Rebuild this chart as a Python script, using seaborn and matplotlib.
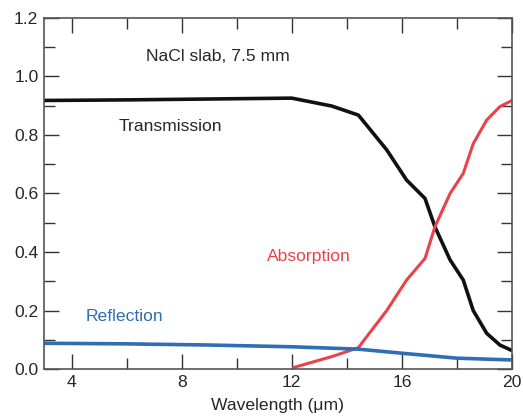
import numpy as np
import pandas as pd
import matplotlib.pyplot as plt
import seaborn as sns
from matplotlib.ticker import MultipleLocator

# values
trans_x = [3, 6, 9, 12, 13.45, 14.42, 15.45, 16.17, 16.84, 17.2, 17.75, 18.23, 18.59, 19.08, 19.56, 20]
trans_y = [0.918, 0.92, 0.923, 0.926, 0.899, 0.868, 0.749, 0.646, 0.583, 0.486, 0.373, 0.304, 0.20, 0.122, 0.082, 0.063]

abs_x = [12.06, 13.51, 14.42, 15.45, 16.17, 16.84, 17.2, 17.75, 18.23, 18.59, 19.08, 19.56, 20]
abs_y = [0.005, 0.044, 0.073, 0.20, 0.304, 0.378, 0.486, 0.60, 0.669, 0.77, 0.851, 0.897, 0.918]

refl_x = [3, 6, 9, 12, 14.4, 16, 18, 20]
refl_y = [0.088, 0.086, 0.082, 0.076, 0.068, 0.054, 0.037, 0.031]

sns.set_style("ticks")
plt.rcParams['font.family'] = ['Liberation Sans', 'DejaVu Sans']

fig = plt.figure(figsize=(5.23, 4.18), dpi=100)
ax = fig.add_axes([0.0841, 0.1172, 0.8949, 0.8398])

sns.lineplot(x=trans_x, y=trans_y, color='#111111', lw=2.6, ax=ax)
sns.lineplot(x=abs_x, y=abs_y, color='#e8434a', lw=2.2, ax=ax)
sns.lineplot(x=refl_x, y=refl_y, color='#2f6db5', lw=2.6, ax=ax)

fs = 12.6
ax.text(9.32, 1.07, 'NaCl slab, 7.5 mm', fontsize=fs, ha='center', va='center')
ax.text(7.6, 0.83, 'Transmission', fontsize=fs, ha='center', va='center')
ax.text(12.63, 0.386, 'Absorption', fontsize=fs, ha='center', va='center', color='#e8434a')
ax.text(5.94, 0.178, 'Reflection', fontsize=fs, ha='center', va='center', color='#2f6db5')

ax.set_xlim(3, 20)
ax.set_ylim(0, 1.2)
ax.xaxis.set_major_locator(MultipleLocator(4))
ax.xaxis.set_minor_locator(MultipleLocator(2))
ax.yaxis.set_major_locator(MultipleLocator(0.2))
ax.yaxis.set_minor_locator(MultipleLocator(0.1))
ax.yaxis.set_major_formatter(plt.FormatStrFormatter('%.1f'))
ax.tick_params(which='both', direction='in', top=True, right=True, color='#333333', width=1)
ax.tick_params(which='major', length=11, labelsize=fs, pad=4)
ax.tick_params(which='minor', length=8)
for s in ax.spines.values():
    s.set_color('#555555')
    s.set_linewidth(1.2)
ax.set_xlabel('Wavelength (\u03bcm)', fontsize=fs, labelpad=6)
ax.set_ylabel('')

fig.savefig('out.png', dpi=100)
